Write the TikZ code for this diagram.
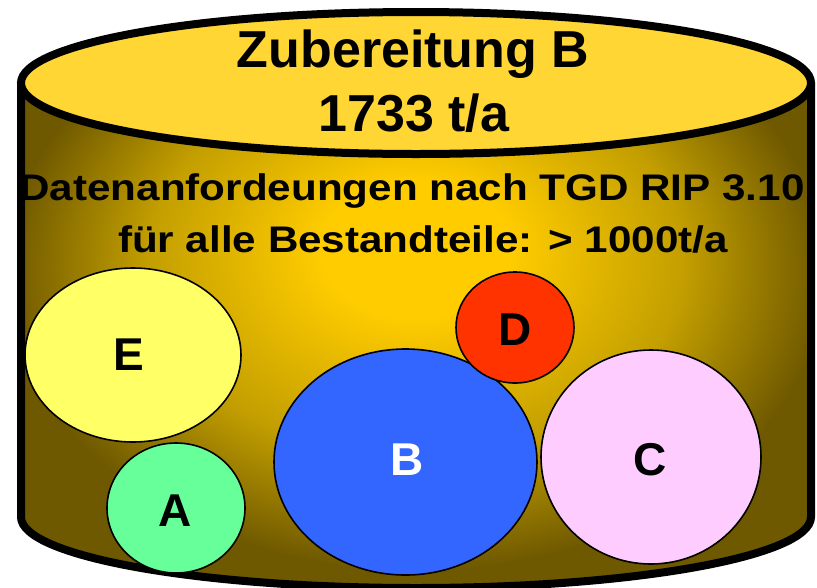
\documentclass[tikz,border=0pt]{standalone}
\usepackage{fontspec}
\setmainfont{Liberation Sans}
\newfontfamily\widefont[FakeStretch=1.14]{Liberation Sans}
\definecolor{topfill}{HTML}{FFD633}
\definecolor{goldc}{HTML}{FFCC00}
\definecolor{goldm}{HTML}{C29E00}
\definecolor{goldd}{HTML}{6E5800}
\definecolor{efill}{HTML}{FFFF66}
\definecolor{afill}{HTML}{66FF99}
\definecolor{bfill}{HTML}{3366FF}
\definecolor{cfill}{HTML}{FFCCFF}
\definecolor{dfill}{HTML}{FF3300}
\pgfdeclareradialshading{cylshade}{\pgfpoint{0bp}{5bp}}{color(0bp)=(goldc); color(6bp)=(goldc); color(17bp)=(goldm); color(26bp)=(goldd); color(50bp)=(goldd)}
\tikzset{
  comp/.style={draw=black, line width=1.6pt},
  lbl/.style={anchor=base, inner sep=0pt, font=\fontsize{46}{50}\selectfont\bfseries},
  title/.style={anchor=base, inner sep=0pt, font=\fontsize{52}{58}\selectfont\bfseries},
  sub/.style={anchor=base, inner sep=0pt, font=\widefont\fontsize{37}{42}\selectfont\bfseries},
}
\begin{document}
\begin{tikzpicture}[x=1pt,y=-1pt]
\useasboundingbox (0,0) rectangle (817,587);
% cylinder side
\shade[shading=cylshade] (21,83) -- (21,517) arc[start angle=180,end angle=0,x radius=395,y radius=71] -- (811,83) arc[start angle=0,end angle=-180,x radius=395,y radius=71] -- cycle;
\draw[line width=8pt] (21,83) -- (21,517) arc[start angle=180,end angle=0,x radius=395,y radius=71] -- (811,83);
% top
\draw[line width=8pt, fill=topfill] (416,83) ellipse[x radius=395, y radius=71];
% components
\path[comp, fill=efill] (133,355) ellipse[x radius=108, y radius=87];
\path[comp, fill=afill] (176,508) ellipse[x radius=69, y radius=65];
\path[comp, fill=bfill] (405.5,462) ellipse[x radius=131.5, y radius=113];
\path[comp, fill=dfill] (515,327.5) ellipse[x radius=59, y radius=55.5];
\path[comp, fill=cfill] (651,457) ellipse[x radius=110, y radius=107];
% texts
\node[title] (t1) at (413,67) {Zubereitung B};
\node[title] (t2) at (414,131) {1733 t/a};
\node[sub] (s1) at (412,200) {Datenanfordeungen nach TGD RIP 3.10};
\node[sub] (s2) at (423,252) {für alle Bestandteile: > 1000t/a};
\node[lbl] (le) at (129,370) {E};
\node[lbl] (la) at (175,526) {A};
\node[lbl, text=white] (lb) at (407,475) {B};
\node[lbl] (ld) at (515,345) {D};
\node[lbl] (lc) at (650,475) {C};
\end{tikzpicture}
\end{document}
